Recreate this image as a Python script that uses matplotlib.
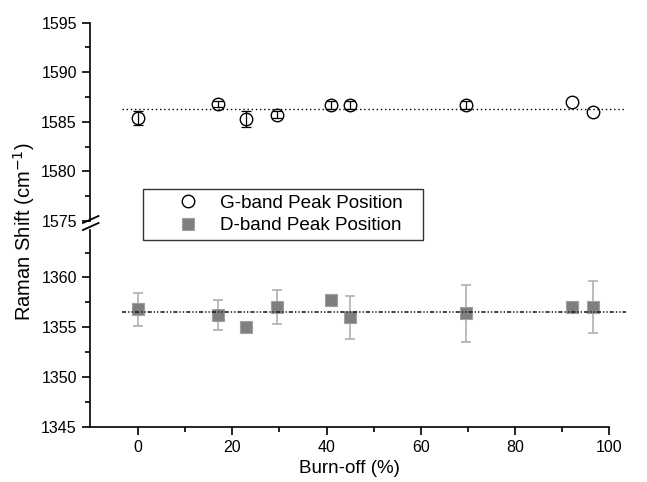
import numpy as np
import matplotlib
matplotlib.use('Agg')
import matplotlib.pyplot as plt
from matplotlib.lines import Line2D
from matplotlib.ticker import MultipleLocator, FixedLocator

plt.rcParams['font.family'] = ['Liberation Sans', 'DejaVu Sans']

# data
burnoff = [0, 17, 23, 29.5, 41, 45, 69.5, 92, 96.5]
g_band = [1585.4, 1586.8, 1585.3, 1585.7, 1586.7, 1586.7, 1586.7, 1587.0, 1586.0]
g_err = [0.7, 0.3, 0.8, 0.35, 0.4, 0.4, 0.4, 0, 0]
d_band = [1356.8, 1356.2, 1355.0, 1357.0, 1357.7, 1356.0, 1356.4, 1357.0, 1357.0]
d_err = [1.65, 1.5, 0, 1.7, 0, 2.15, 2.85, 0, 2.6]
g_mean = 1586.3
d_mean = 1356.5
fit_x = [-3.5, 103.5]

W, H = 647, 482
fig = plt.figure(figsize=(W / 100, H / 100), dpi=100)

def px(l, t, r, b):
    return [l / W, 1 - b / H, (r - l) / W, (b - t) / H]

ax_top = fig.add_axes(px(90, 22.7, 609.3, 221))
ax_bot = fig.add_axes(px(90, 230, 609.3, 426.7), sharex=ax_top)

for ax in (ax_top, ax_bot):
    for s in ('top', 'right'):
        ax.spines[s].set_visible(False)
    ax.spines['left'].set_linewidth(1.2)
    ax.tick_params(which='major', direction='out', length=6, width=1.2, labelsize=11.5)
    ax.tick_params(which='minor', direction='out', length=3.5, width=1.2)

ax_top.spines['bottom'].set_visible(False)
ax_top.tick_params(axis='x', which='both', bottom=False, labelbottom=False)
ax_bot.spines['bottom'].set_linewidth(1.2)

ax_top.set_ylim(1575, 1595)
ax_top.yaxis.set_major_locator(MultipleLocator(5))
ax_top.yaxis.set_minor_locator(MultipleLocator(2.5))

ax_bot.set_ylim(1345, 1345 + (426.7 - 230) / 9.95)
ax_bot.yaxis.set_major_locator(FixedLocator([1345, 1350, 1355, 1360]))
ax_bot.yaxis.set_minor_locator(FixedLocator([1347.5, 1352.5, 1357.5, 1362.5]))

ax_bot.set_xlim(-10.2, 100)
ax_bot.xaxis.set_major_locator(MultipleLocator(20))
ax_bot.xaxis.set_minor_locator(FixedLocator([10, 30, 50, 70, 90]))

x = np.array(burnoff)
ge = np.array(g_err)
de = np.array(d_err)

# G band
m = ge > 0
ax_top.errorbar(x[m], np.array(g_band)[m], yerr=ge[m], fmt='none', ecolor='black',
                elinewidth=0.9, capsize=3.5, capthick=0.9, zorder=2)
hg, = ax_top.plot(x, g_band, 'o', ms=9, mfc='none', mec='black', mew=1.0,
                  zorder=3, label='G-band Peak Position')
ax_top.plot(fit_x, [g_mean, g_mean], color='black', lw=1.0, ls=(0, (1, 2)),
            clip_on=False, zorder=1)

# D band
m = de > 0
ax_bot.errorbar(x[m], np.array(d_band)[m], yerr=de[m], fmt='none', ecolor='#b0b0b0',
                elinewidth=1.2, capsize=3.5, capthick=1.2, zorder=2)
hd, = ax_bot.plot(x, d_band, 's', ms=8, mfc='#7f7f7f', mec='#a0a0a0', mew=0.8,
                  zorder=3, label='D-band Peak Position')
ax_bot.plot(fit_x, [d_mean, d_mean], color='#222222', lw=1.2,
            ls=(0, (2.5, 1.2, 0.8, 1.2, 0.8, 1.2)), clip_on=False, zorder=4)

# axis break marks
for y0 in (223, 230):
    fig.add_artist(Line2D([83 / W, 98.5 / W], [1 - y0 / H, 1 - (y0 - 7) / H],
                          color='black', lw=1.3))

ax_bot.set_xlabel('Burn-off (%)', fontsize=13.5, labelpad=4)
fig.text(24 / W, 1 - 232 / H, 'Raman Shift (cm$^{-1}$)', rotation=90,
         ha='center', va='center', fontsize=14.5)

leg = fig.legend(handles=[hg, hd], loc='upper left',
                 bbox_to_anchor=(143 / W, 1 - 242 / H, (423 - 143) / W, 53 / H),
                 mode='expand', fontsize=13.6, frameon=True, fancybox=False,
                 edgecolor='black', borderpad=0.3, handlelength=4.2,
                 handletextpad=-0.45, labelspacing=0.28, borderaxespad=0)
leg.get_frame().set_linewidth(1.0)

fig.savefig('out.png', dpi=100)
